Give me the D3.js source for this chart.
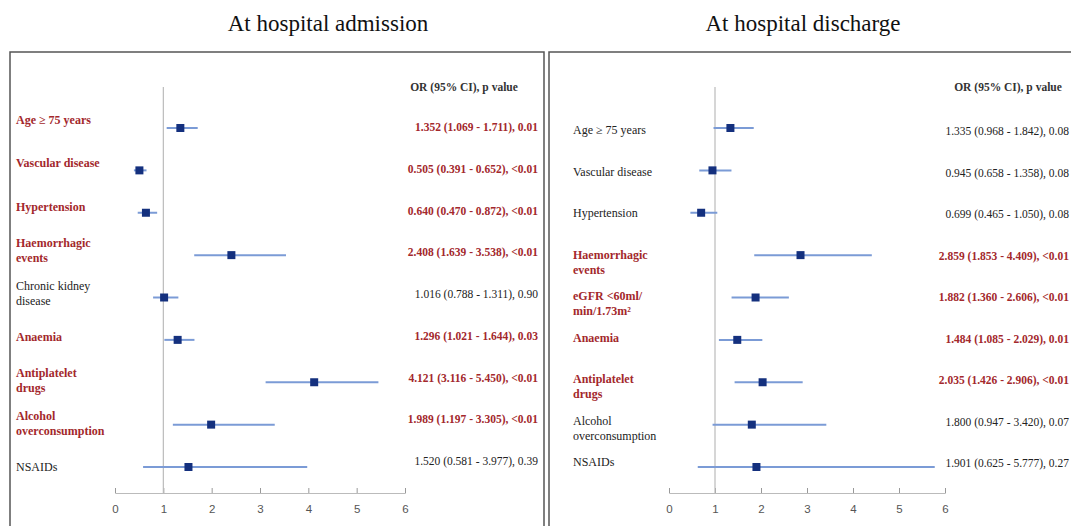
<!DOCTYPE html>
<html>
<head>
<meta charset="utf-8">
<script src="https://cdn.jsdelivr.net/npm/d3@7"></script>
<style>
  body { margin: 0; background: #fff; }
  svg { display: block; }
</style>
</head>
<body>
<div id="chart"></div>
<script>
var W = 1071, H = 526;

// admission data
var admLabels = [["Age \u2265 75 years"], ["Vascular disease"], ["Hypertension"], ["Haemorrhagic", "events"],
                 ["Chronic kidney", "disease"], ["Anaemia"], ["Antiplatelet", "drugs"], ["Alcohol", "overconsumption"], ["NSAIDs"]];
var admOR = [1.352, 0.505, 0.640, 2.408, 1.016, 1.296, 4.121, 1.989, 1.520];
var admLo = [1.069, 0.391, 0.470, 1.639, 0.788, 1.021, 3.116, 1.197, 0.581];
var admHi = [1.711, 0.652, 0.872, 3.538, 1.311, 1.644, 5.450, 3.305, 3.977];
var admP  = ["0.01", "<0.01", "<0.01", "<0.01", "0.90", "0.03", "<0.01", "<0.01", "0.39"];
var admSig = [true, true, true, true, false, true, true, true, false];

// discharge data
var disLabels = [["Age \u2265 75 years"], ["Vascular disease"], ["Hypertension"], ["Haemorrhagic", "events"],
                 ["eGFR <60ml/", "min/1.73m\u00b2"], ["Anaemia"], ["Antiplatelet", "drugs"], ["Alcohol", "overconsumption"], ["NSAIDs"]];
var disOR = [1.335, 0.945, 0.699, 2.859, 1.882, 1.484, 2.035, 1.800, 1.901];
var disLo = [0.968, 0.658, 0.465, 1.853, 1.360, 1.085, 1.426, 0.947, 0.625];
var disHi = [1.842, 1.358, 1.050, 4.409, 2.606, 2.029, 2.906, 3.420, 5.777];
var disP  = ["0.08", "0.08", "0.08", "<0.01", "<0.01", "0.01", "<0.01", "0.07", "0.27"];
var disSig = [false, false, false, true, true, true, true, false, false];

var ticks = [0, 1, 2, 3, 4, 5, 6];

var RED = "#a3282c", NAVY = "#14307e", CI = "#7b9bd6";
var SERIF = "'Liberation Serif', 'DejaVu Serif', serif";

var svg = d3.select("#chart").append("svg")
    .attr("width", W)
    .attr("height", H);

function makeRows(labels, or, lo, hi, p, sig) {
    return labels.map(function (l, i) {
        return { label: l, or: or[i], lo: lo[i], hi: hi[i], p: p[i], sig: sig[i] };
    });
}

var panels = [
    { title: "At hospital admission", box: [10, 52, 534], titleX: 328,
      xr: [115, 405], labelX: 16, valX: 538, headX: 464,
      labY: [124, 471], valY: [127, 461], centerMulti: true,
      rows: makeRows(admLabels, admOR, admLo, admHi, admP, admSig) },
    { title: "At hospital discharge", box: [549, 52, 540], titleX: 803,
      xr: [669, 945], labelX: 573, valX: 1069, headX: 1008,
      labY: [134, 466], valY: [131, 463], centerMulti: false,
      rows: makeRows(disLabels, disOR, disLo, disHi, disP, disSig) }
];

panels.forEach(function (pn) {
    var g = svg.append("g");

    g.append("text")
        .attr("x", pn.titleX)
        .attr("y", 31)
        .attr("text-anchor", "middle")
        .style("font-family", SERIF)
        .style("font-size", "23px")
        .attr("fill", "#111")
        .text(pn.title);

    // panel frame (runs past the bottom)
    g.append("rect")
        .attr("x", pn.box[0])
        .attr("y", pn.box[1])
        .attr("width", pn.box[2])
        .attr("height", H)
        .attr("fill", "none")
        .attr("stroke", "#555")
        .attr("stroke-width", 1.5);

    var idx = d3.range(pn.rows.length);
    var x = d3.scaleLinear().domain([0, 6]).range(pn.xr);
    var y = d3.scalePoint().domain(idx).range([128, 467]);
    var yLab = d3.scalePoint().domain(idx).range(pn.labY);
    var yVal = d3.scalePoint().domain(idx).range(pn.valY);

    // axis
    var axisY = 493;
    var ax = g.append("g")
        .attr("transform", "translate(0," + axisY + ")")
        .call(d3.axisTop(x).tickValues(ticks).tickSize(5).tickFormat(d3.format("d")));
    ax.select(".domain").attr("stroke", "#bbb");
    ax.selectAll(".tick line").attr("stroke", "#999");
    ax.selectAll(".tick text")
        .attr("y", 16)
        .attr("dy", "0.35em")
        .attr("fill", "#555")
        .style("font-family", "'Liberation Sans', sans-serif")
        .style("font-size", "11.5px");

    // reference line at OR = 1
    g.append("line")
        .attr("x1", x(1)).attr("x2", x(1))
        .attr("y1", 87).attr("y2", axisY)
        .attr("stroke", "#bbb")
        .attr("stroke-width", 1.2);

    g.append("text")
        .attr("x", pn.headX)
        .attr("y", 91)
        .attr("text-anchor", "middle")
        .style("font-family", SERIF)
        .style("font-size", "11.5px")
        .style("font-weight", "bold")
        .attr("fill", "#333")
        .text("OR (95% CI), p value");

    // CI lines and markers
    g.selectAll(".ci")
        .data(pn.rows)
        .enter().append("line")
        .attr("class", "ci")
        .attr("x1", function (d) { return x(d.lo); })
        .attr("x2", function (d) { return x(d.hi); })
        .attr("y1", function (d, i) { return y(i); })
        .attr("y2", function (d, i) { return y(i); })
        .attr("stroke", CI)
        .attr("stroke-width", 2);

    g.selectAll(".pt")
        .data(pn.rows)
        .enter().append("rect")
        .attr("class", "pt")
        .attr("x", function (d) { return x(d.or) - 4; })
        .attr("y", function (d, i) { return y(i) - 4; })
        .attr("width", 8)
        .attr("height", 8)
        .attr("fill", NAVY);

    // row labels
    var lab = g.selectAll(".lab")
        .data(pn.rows)
        .enter().append("text")
        .attr("class", "lab")
        .attr("y", function (d, i) {
            return yLab(i) - (pn.centerMulti ? (d.label.length - 1) * 7.5 : 0);
        })
        .attr("dy", "0.35em")
        .style("font-family", SERIF)
        .style("font-size", "12px")
        .style("font-weight", function (d) { return d.sig ? "bold" : "normal"; })
        .attr("fill", function (d) { return d.sig ? RED : "#222"; });
    lab.selectAll("tspan")
        .data(function (d) { return d.label; })
        .enter().append("tspan")
        .attr("x", pn.labelX)
        .attr("dy", function (d, i) { return i ? 15 : 0; })
        .text(function (d) { return d; });

    // OR values
    g.selectAll(".val")
        .data(pn.rows)
        .enter().append("text")
        .attr("class", "val")
        .attr("x", pn.valX)
        .attr("y", function (d, i) { return yVal(i); })
        .attr("dy", "0.35em")
        .attr("text-anchor", "end")
        .style("font-family", SERIF)
        .style("font-size", "11.5px")
        .style("font-weight", function (d) { return d.sig ? "bold" : "normal"; })
        .attr("fill", function (d) { return d.sig ? RED : "#222"; })
        .text(function (d) {
            return d.or.toFixed(3) + " (" + d.lo.toFixed(3) + " - " + d.hi.toFixed(3) + "), " + d.p;
        });
});
</script>
</body>
</html>
